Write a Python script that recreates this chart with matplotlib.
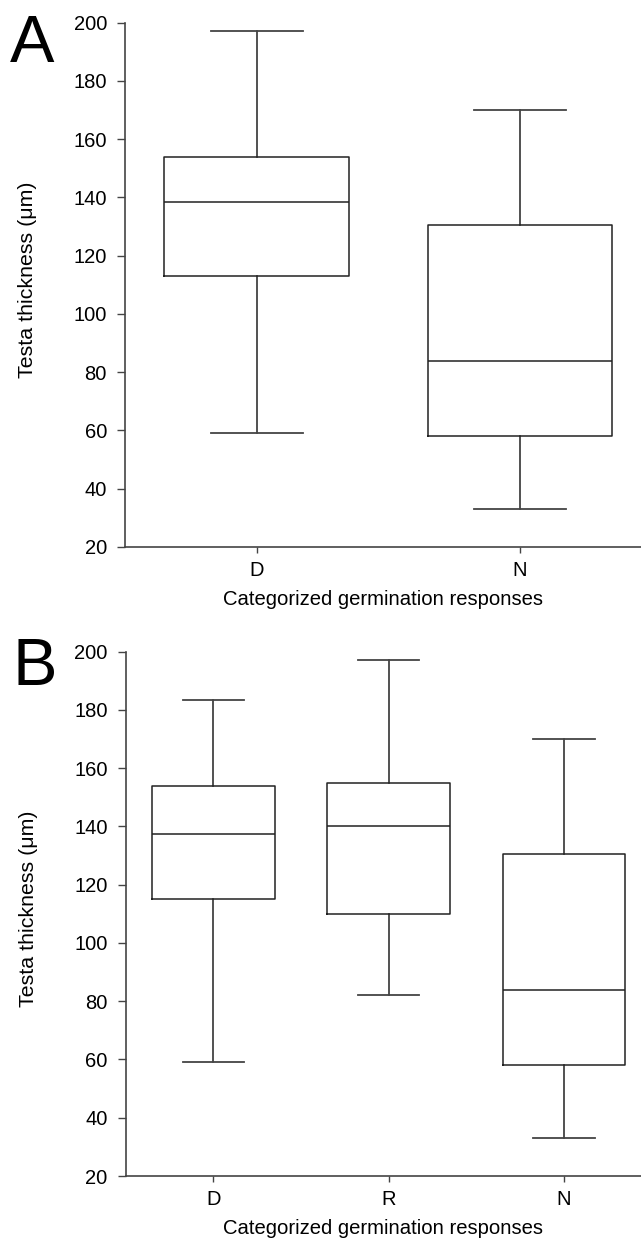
import matplotlib
matplotlib.use("Agg")
from matplotlib import pyplot as plt

plt.rcParams['font.family'] = ['Liberation Sans', 'DejaVu Sans']

# panel A
cats_a = ['D', 'N']
low_a = [59, 33]
q1_a = [113, 58]
med_a = [138.5, 84]
q3_a = [154, 130.5]
high_a = [197, 170]

# panel B
cats_b = ['D', 'R', 'N']
low_b = [59, 82, 33]
q1_b = [115, 110, 58]
med_b = [137.5, 140, 84]
q3_b = [154, 155, 130.5]
high_b = [183.5, 197, 170]

yticks = [20, 40, 60, 80, 100, 120, 140, 160, 180, 200]

W, H = 641, 1243
fig = plt.figure(figsize=(W / 100, H / 100), dpi=100)

line = dict(color='#222222', linewidth=1.1)
spine_col = '#444444'


def panel(rect, cats, low, q1, med, q3, high, letter, letter_xy, right_pad):
    ax = fig.add_axes(rect)
    stats = []
    for c, lo, a, m, b, hi in zip(cats, low, q1, med, q3, high):
        stats.append(dict(label=c, whislo=lo, q1=a, med=m, q3=b, whishi=hi, fliers=[]))
    ax.bxp(stats, positions=range(1, len(cats) + 1), widths=0.70,
           showfliers=False, boxprops=line, whiskerprops=line,
           capprops=dict(color='#444444', linewidth=1.3), medianprops=line,
           capwidths=0.35)
    ax.set_xlim(0.5, len(cats) + right_pad)
    ax.set_ylim(20, 200)
    ax.set_yticks(yticks)
    for s in ['top', 'right']:
        ax.spines[s].set_visible(False)
    for s in ['left', 'bottom']:
        ax.spines[s].set_color(spine_col)
        ax.spines[s].set_linewidth(1.2)
    ax.tick_params(axis='y', direction='out', length=6, width=1, color=spine_col,
                   pad=7, labelsize=14.5)
    ax.tick_params(axis='x', direction='out', length=4, width=1, color=spine_col,
                   pad=6, labelsize=14.5)
    ax.set_ylabel('Testa thickness (μm)', fontsize=15.4)
    ax.yaxis.set_label_coords(-0.17, 0.51)
    ax.set_xlabel('Categorized germination responses', fontsize=14.6, labelpad=7)
    fig.text(letter_xy[0], letter_xy[1], letter, fontsize=48, ha='left', va='baseline')
    return ax


panel([125 / W, 1 - 547 / H, 1 - 125 / W, (547 - 22.7) / H],
      cats_a, low_a, q1_a, med_a, q3_a, high_a, 'A', (10 / W, 1 - 62 / H), 0.46)
panel([125.7 / W, 1 - 1176 / H, 1 - 125.7 / W, (1176 - 651.7) / H],
      cats_b, low_b, q1_b, med_b, q3_b, high_b, 'B', (12 / W, 1 - 685 / H), 0.44)

fig.savefig('out.png', dpi=100)
